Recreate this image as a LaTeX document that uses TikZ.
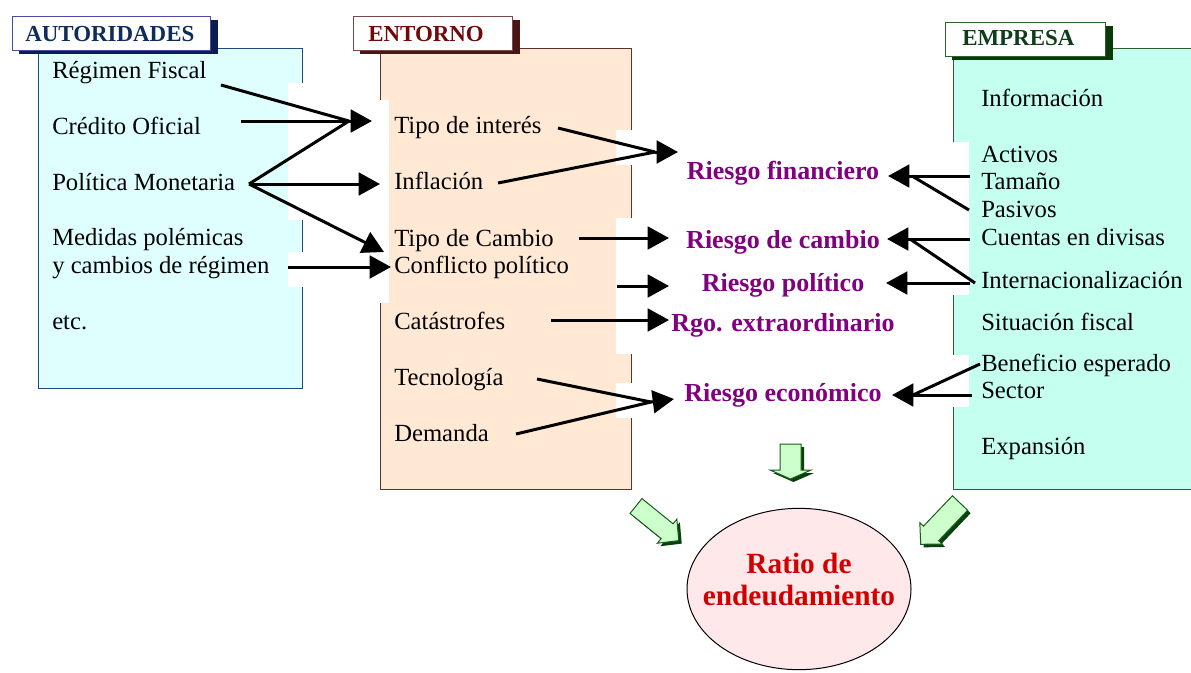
\documentclass[tikz,border=0pt]{standalone}
\usepackage{fontspec}
\setmainfont{Liberation Serif}
\usetikzlibrary{arrows.meta,shapes.geometric}
\definecolor{autfill}{HTML}{DFFFFF}
\definecolor{autline}{HTML}{1E4B7A}
\definecolor{auttline}{HTML}{4B4BA0}
\definecolor{autshad}{HTML}{0A1E50}
\definecolor{auttext}{HTML}{0F2D5C}
\definecolor{entfill}{HTML}{FFE9D5}
\definecolor{entline}{HTML}{5E3030}
\definecolor{enttline}{HTML}{7A4A4A}
\definecolor{entshad}{HTML}{4A1515}
\definecolor{enttext}{HTML}{6E0A0A}
\definecolor{empfill}{HTML}{C4FFF0}
\definecolor{empline}{HTML}{2F5F2F}
\definecolor{empshad}{HTML}{0A3A0A}
\definecolor{emptext}{HTML}{0D3D1A}
\definecolor{riskc}{HTML}{800080}
\definecolor{ratiofill}{HTML}{FFE8EA}
\definecolor{ratiotext}{HTML}{D00000}
\definecolor{gfillc}{HTML}{CCFFCC}
\definecolor{glinec}{HTML}{1A5C1A}
\definecolor{gshadc}{HTML}{0A4010}
\tikzset{
  txt/.style={anchor=base west, inner sep=0pt, font=\fontsize{18.5}{20}\selectfont},
  risk/.style={anchor=base, inner sep=0pt, text=riskc, font=\fontsize{19.5}{21}\selectfont\bfseries},
  ttl/.style={anchor=base west, inner sep=0pt, font=\fontsize{17.2}{19}\selectfont\bfseries},
  conn/.style={line width=2.25pt},
  arr/.style={conn, -{Triangle[length=16pt,width=17pt]}},
  gfill/.style={fill=gfillc, draw=glinec, line width=0.75pt, line join=miter},
  gshadow/.style={fill=gshadc},
  patch/.style={fill=white}
}
\newcommand\garrow[7]{%
  \foreach \dd/\sty in {3/gshadow,0/gfill}{%
    \begin{scope}[shift={(#1+\dd,#2+\dd)},rotate=#3]
      \path[\sty] (0,-#5/2) -- (#4-#7,-#5/2) -- (#4-#7,-#6/2) -- (#4,0) -- (#4-#7,#6/2) -- (#4-#7,#5/2) -- (0,#5/2) -- cycle;
    \end{scope}}}
\begin{document}
\begin{tikzpicture}[x=0.75pt,y=-0.75pt]
\clip (0,0) rectangle (1191,672);
\fill[white] (0,0) rectangle (1191,672);

% panels
\path[fill=autfill, draw=autline, line width=0.75pt] (38,48) rectangle (302,388);
\path[fill=entfill, draw=entline, line width=0.75pt] (380,48) rectangle (631,489);
\path[fill=empfill, draw=empline, line width=0.75pt] (953,48) rectangle (1200,489);

% white patches
\path[patch] (288,83) rectangle (304,220);
\path[patch] (288,252) rectangle (304,287);
\path[patch] (378,100) rectangle (389,303);
\path[patch] (616,130) rectangle (633,165);
\path[patch] (616,218) rectangle (633,354);
\path[patch] (616,383) rectangle (633,418);
\path[patch] (951,142) rectangle (969,295);
\path[patch] (951,355) rectangle (969,407);

% titles
\fill[autshad] (19,20) rectangle (218,54);
\path[fill=white, draw=auttline, line width=0.75pt] (12,16) rectangle (210,50);
\node[ttl, text=auttext] (tA) at (25,41) {AUTORIDADES};
\fill[entshad] (360,20) rectangle (520,54);
\path[fill=white, draw=enttline, line width=0.75pt] (353,16) rectangle (512,50);
\node[ttl, text=enttext] (tB) at (368,41) {ENTORNO};
\fill[empshad] (952,26) rectangle (1113,60);
\path[fill=white, draw=empline, line width=0.75pt] (945,22) rectangle (1105,56);
\node[ttl, text=emptext] (tC) at (962,45) {EMPRESA};

% left column
\node[txt] (a1) at (52,78) {Régimen Fiscal};
\node[txt] (a2) at (52,134) {Crédito Oficial};
\node[txt] (a3) at (52,190) {Política Monetaria};
\node[txt] (a4) at (52,245) {Medidas polémicas};
\node[txt] (a5) at (52,273) {y cambios de régimen};
\node[txt] (a6) at (52,329) {etc.};

% middle column
\node[txt] (b1) at (394,133) {Tipo de interés};
\node[txt] (b2) at (394,189) {Inflación};
\node[txt] (b3) at (394,246) {Tipo de Cambio};
\node[txt] (b4) at (394,273) {Conflicto político};
\node[txt] (b5) at (394,329) {Catástrofes};
\node[txt] (b6) at (394,385) {Tecnología};
\node[txt] (b7) at (394,441) {Demanda};

% right column
\node[txt] (c1) at (981,106) {Información};
\node[txt] (c2) at (981,162) {Activos};
\node[txt] (c3) at (981,189) {Tamaño};
\node[txt] (c4) at (981,217) {Pasivos};
\node[txt] (c5) at (981,245) {Cuentas en divisas};
\node[txt] (c6) at (981,288) {Internacionalización};
\node[txt] (c7) at (981,330) {Situación fiscal};
\node[txt] (c8) at (981,371) {Beneficio esperado};
\node[txt] (c9) at (981,398) {Sector};
\node[txt] (c10) at (981,454) {Expansión};

% risks
\node[risk] (r1) at (783,179) {Riesgo financiero};
\node[risk] (r2) at (783,248) {Riesgo de cambio};
\node[risk] (r3) at (783,291) {Riesgo político};
\node[risk] (r4) at (783,331) {Rgo. extraordinario};
\node[risk] (r5) at (783,401) {Riesgo económico};

% connector coordinates
\coordinate (sa1) at (221,85);
\coordinate (sa2) at (241,121);
\coordinate (sa3) at (249,184);
\coordinate (sa5) at (288,267);
\coordinate (j1) at (349,121);
\coordinate (tb1) at (372,121);
\coordinate (tb2) at (380,184);
\coordinate (tb3) at (384,252);
\coordinate (tb4) at (391,267);
\coordinate (sb1) at (558,128);
\coordinate (sb2) at (498,183);
\coordinate (sb3) at (579,238);
\coordinate (sb4) at (617,286);
\coordinate (sb5) at (551,320);
\coordinate (sb6) at (537,379);
\coordinate (sb7) at (516,434);
\coordinate (j2) at (655,152);
\coordinate (tr1) at (678,152);
\coordinate (tr2l) at (669,238);
\coordinate (tr3l) at (669,286);
\coordinate (tr4l) at (669,320);
\coordinate (j3) at (651,402);
\coordinate (tr5l) at (674,399);
\coordinate (sc3) at (970,176);
\coordinate (sc4) at (969,210);
\coordinate (sc5) at (970,239);
\coordinate (sc6a) at (975,283);
\coordinate (sc6b) at (970,283);
\coordinate (sc8) at (980,364);
\coordinate (sc9) at (972,395);
\coordinate (j4) at (912,176);
\coordinate (j5) at (910,239);
\coordinate (j6) at (913,395);
\coordinate (tr1r) at (888,176);
\coordinate (tr2r) at (887,239);
\coordinate (tr3r) at (886,283);
\coordinate (tr5r) at (892,395);

% black connectors
\draw[conn] (sa1) -- (j1);
\draw[conn] (sa3) -- (j1);
\draw[arr] (sa2) -- (tb1);
\draw[arr] (sa3) -- (tb2);
\draw[arr] (sa3) -- (tb3);
\draw[arr] (sa5) -- (tb4);
\draw[conn] (sb1) -- (j2);
\draw[conn] (sb2) -- (j2);
\draw[arr] (j2) -- (tr1);
\draw[arr] (sb3) -- (tr2l);
\draw[arr] (sb4) -- (tr3l);
\draw[arr] (sb5) -- (tr4l);
\draw[conn] (sb6) -- (j3);
\draw[conn] (sb7) -- (j3);
\draw[arr] (j3) -- (tr5l);
\draw[arr] (sc3) -- (tr1r);
\draw[conn] (sc4) -- (j4);
\draw[arr] (sc5) -- (tr2r);
\draw[conn] (sc6a) -- (j5);
\draw[arr] (sc6b) -- (tr3r);
\draw[conn] (sc8) -- (j6);
\draw[arr] (sc9) -- (tr5r);

% green block arrows
\garrow{790.5}{444}{-90}{35}{21}{41}{9}
\garrow{636}{506}{-39}{55}{19}{31}{15}
\garrow{960}{503}{-133.6}{57}{21}{31}{15}

% ratio ellipse
\node[ellipse, draw=black, line width=0.75pt, fill=ratiofill, minimum width=168pt, minimum height=121pt, inner sep=0pt] (ratio) at (799,589) {};
\node[anchor=base, inner sep=0pt, text=ratiotext, font=\fontsize{22}{24}\selectfont\bfseries] (ratio1) at (799,573) {Ratio de};
\node[anchor=base, inner sep=0pt, text=ratiotext, font=\fontsize{22}{24}\selectfont\bfseries] (ratio2) at (799,605) {endeudamiento};
\end{tikzpicture}
\end{document}
